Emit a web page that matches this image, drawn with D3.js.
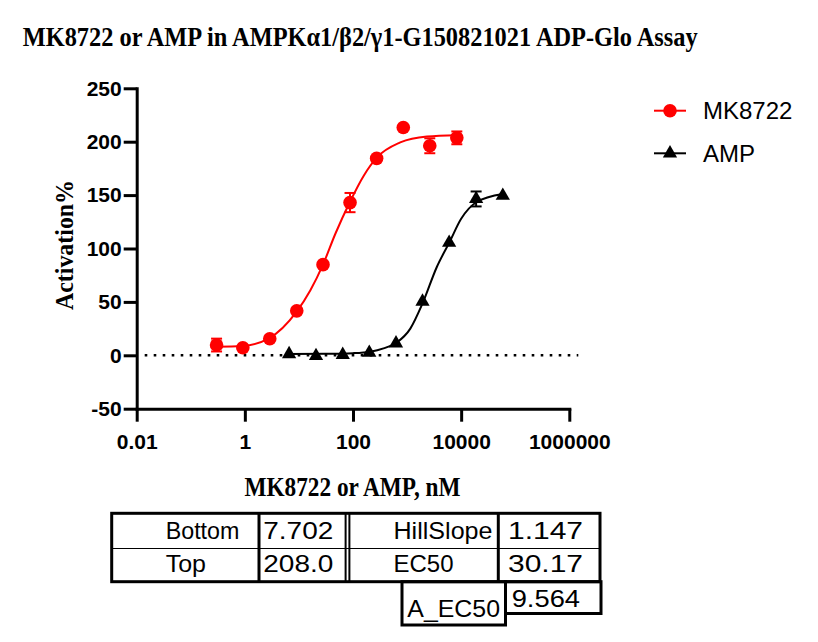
<!DOCTYPE html>
<html><head><meta charset="utf-8">
<script src="https://cdn.jsdelivr.net/npm/d3@7"></script>
<style>body{margin:0;background:#fff}</style>
</head><body><svg id="c" width="818" height="642" xmlns="http://www.w3.org/2000/svg"></svg>
<script>
// ---------- data ----------
const titleText = "MK8722 or AMP in AMPKα1/β2/γ1-G150821021 ADP-Glo Assay";
const xTitle = "MK8722 or AMP, nM";
const yTitle = "Activation%";
const xTickValues = [0.01, 1, 100, 10000, 1000000];
const xTickLabels = ["0.01", "1", "100", "10000", "1000000"];
const yTickValues = [-50, 0, 50, 100, 150, 200, 250];
const yTickLabels = ["-50", "0", "50", "100", "150", "200", "250"];
const seriesNames = ["MK8722", "AMP"];

const mkConc = [0.30, 0.918, 2.89, 9.12, 27.9, 88.1, 273.5, 851, 2630, 8318];
const mkMean = [9.6, 7.1, 15.5, 41.6, 84.9, 143.0, 184.4, 213.3, 196.2, 203.6];
const mkErr  = [6, 0, 0, 0, 0, 9, 0, 0, 7, 6];

const ampConc = [6.58, 20.7, 64.6, 200, 624, 1928, 6000, 18920, 58900];
const ampMean = [1.2, -0.6, 0.5, 2.5, 11.2, 50.3, 105.4, 146.4, 149.5];
const ampErr  = [0, 0, 0, 0, 0, 0, 0, 7, 0];

const mkFitConc  = [0.30, 0.895, 2.78, 9.0, 16.3, 28.0, 47.2, 87.1, 158, 278, 748, 2328, 8318];
const mkFitValue = [8.0, 8.7, 15.8, 40.7, 61.0, 85.2, 113.8, 143.3, 168.2, 185.3, 199.3, 204.9, 206.1];
const ampFitConc  = [6.58, 31.6, 100, 209, 367, 646, 1148, 1928, 3548, 6095, 10000, 19055, 58884];
const ampFitValue = [1.2, 1.4, 2.0, 3.4, 6.5, 12.0, 25.0, 48.5, 82.7, 106.0, 127.8, 143.3, 151.0];

const tableRow1 = ["Bottom", "7.702", "HillSlope", "1.147"];
const tableRow2 = ["Top", "208.0", "EC50", "30.17"];
const tableRow3 = ["A_EC50", "9.564"];

// ---------- drawing ----------
const svg = d3.select("#c");
const SANS = "'Liberation Sans', Arial, sans-serif";
const SERIF = "'Liberation Serif', 'Times New Roman', serif";
const RED = "#ff0000";

function fitWidth(sel, w) {
  sel.attr("textLength", w).attr("lengthAdjust", "spacingAndGlyphs");
}

// title
svg.append("text").attr("x", 22.7).attr("y", 46)
  .attr("font-family", SERIF).attr("font-weight", "bold").attr("font-size", 26.7)
  .text(titleText).call(fitWidth, 675);

const x = d3.scaleLog().domain([0.01, 1e6]).range([136.7, 569.3]);
const y = d3.scaleLinear().domain([-50, 250]).range([408.7, 88.3]);

// axes
const gx = svg.append("g").attr("transform", `translate(0,${y(-50)})`)
  .call(d3.axisBottom(x).tickValues(xTickValues).tickFormat((d, i) => xTickLabels[i])
    .tickSize(13).tickSizeOuter(0).tickPadding(12));
const gy = svg.append("g").attr("transform", `translate(${x(0.01)},0)`)
  .call(d3.axisLeft(y).tickValues(yTickValues).tickFormat((d, i) => yTickLabels[i])
    .tickSize(13).tickSizeOuter(0).tickPadding(2));
[gx, gy].forEach(g => {
  g.selectAll("path.domain").attr("stroke", "#000").attr("stroke-width", 3).attr("stroke-linecap", "square");
  g.selectAll(".tick line").attr("stroke", "#000").attr("stroke-width", 3);
  g.selectAll(".tick text").attr("fill", "#000").attr("font-family", SANS)
    .attr("font-weight", "bold").attr("font-size", 21);
});

// axis titles
svg.append("text").attr("x", 352.5).attr("y", 496).attr("text-anchor", "middle")
  .attr("font-family", SERIF).attr("font-weight", "bold").attr("font-size", 27)
  .text(xTitle).call(fitWidth, 216);
svg.append("text").attr("transform", `translate(73,245) rotate(-90)`).attr("text-anchor", "middle")
  .attr("font-family", SERIF).attr("font-weight", "bold").attr("font-size", 25)
  .text(yTitle).call(fitWidth, 130);

// dotted zero line
svg.append("line")
  .attr("x1", x.range()[0] + 8).attr("x2", x.range()[1] + 9)
  .attr("y1", y(0)).attr("y2", y(0))
  .attr("stroke", "#000").attr("stroke-width", 2.6).attr("stroke-dasharray", "2.6,6.4");

// fitted curves
const line = d3.line().x(d => x(d[0])).y(d => y(d[1])).curve(d3.curveMonotoneX);
svg.append("path").datum(d3.zip(ampFitConc, ampFitValue)).attr("d", line)
  .attr("fill", "none").attr("stroke", "#000").attr("stroke-width", 2);
svg.append("path").datum(d3.zip(mkFitConc, mkFitValue)).attr("d", line)
  .attr("fill", "none").attr("stroke", RED).attr("stroke-width", 2);

// error bars
function errorBars(conc, mean, err, color) {
  const g = svg.append("g").attr("stroke", color).attr("stroke-width", 2);
  conc.forEach((c, i) => {
    if (!err[i]) return;
    const cx = x(c), y1 = y(mean[i] + err[i]), y2 = y(mean[i] - err[i]);
    g.append("line").attr("x1", cx).attr("x2", cx).attr("y1", y1).attr("y2", y2);
    g.append("line").attr("x1", cx - 5.5).attr("x2", cx + 5.5).attr("y1", y1).attr("y2", y1);
    g.append("line").attr("x1", cx - 5.5).attr("x2", cx + 5.5).attr("y1", y2).attr("y2", y2);
  });
}
errorBars(ampConc, ampMean, ampErr, "#000");
errorBars(mkConc, mkMean, mkErr, RED);

const tri = d3.symbol().type(d3.symbolTriangle).size(88);
svg.append("g").selectAll("path").data(d3.zip(ampConc, ampMean)).join("path")
  .attr("d", tri).attr("transform", d => `translate(${x(d[0])},${y(d[1])})`).attr("fill", "#000");
svg.append("g").selectAll("circle").data(d3.zip(mkConc, mkMean)).join("circle")
  .attr("cx", d => x(d[0])).attr("cy", d => y(d[1])).attr("r", 6.8).attr("fill", RED);

// legend
const leg = svg.append("g");
[[RED, "circle", 110.7], ["#000", "triangle", 153.3]].forEach(([col, shape, ly], i) => {
  leg.append("line").attr("x1", 654).attr("x2", 686).attr("y1", ly).attr("y2", ly)
    .attr("stroke", col).attr("stroke-width", 2);
  if (shape === "circle") leg.append("circle").attr("cx", 670).attr("cy", ly).attr("r", 6.8).attr("fill", col);
  else leg.append("path").attr("d", tri).attr("transform", `translate(670,${ly})`).attr("fill", col);
  leg.append("text").attr("x", 703).attr("y", ly + 8.2).attr("font-family", SANS)
    .attr("font-size", 24).attr("fill", "#000").text(seriesNames[i]);
});

// parameter table
const tb = svg.append("g");
const box = (x0, y0, x1, y1, w) => tb.append("rect").attr("x", x0).attr("y", y0)
  .attr("width", x1 - x0).attr("height", y1 - y0).attr("fill", "none").attr("stroke", "#000").attr("stroke-width", w);
const vline = (xx, y0, y1, w) => tb.append("line").attr("x1", xx).attr("x2", xx).attr("y1", y0).attr("y2", y1)
  .attr("stroke", "#000").attr("stroke-width", w);
box(111.7, 513.3, 600, 581.7, 3);
tb.append("line").attr("x1", 111.7).attr("x2", 600).attr("y1", 548.5).attr("y2", 548.5)
  .attr("stroke", "#000").attr("stroke-width", 1.2);
vline(259, 513.3, 581.7, 3);
vline(345.6, 513.3, 581.7, 2);
vline(349.4, 513.3, 581.7, 2);
vline(498.3, 513.3, 581.7, 3);
box(402, 581.7, 505.5, 625, 3);
box(505.5, 581.7, 601, 613.5, 3);

const colX = [165.7, 263.3, 393.5, 508];
const colW1 = [73.7, 70, 99, 75];
const colW2 = [40.3, 70, 60, 75];
const cell = (t, xx, yy, w) => tb.append("text").attr("x", xx).attr("y", yy)
  .attr("font-family", SANS).attr("font-size", 24.5).attr("fill", "#000").text(t).call(fitWidth, w);
tableRow1.forEach((t, i) => cell(t, colX[i], 539.3, colW1[i]));
tableRow2.forEach((t, i) => cell(t, colX[i], 571.7, colW2[i]));
cell(tableRow3[0], 407.3, 617.3, 92.7);
cell(tableRow3[1], 511.7, 606.7, 68.3);
</script>
</body></html>
